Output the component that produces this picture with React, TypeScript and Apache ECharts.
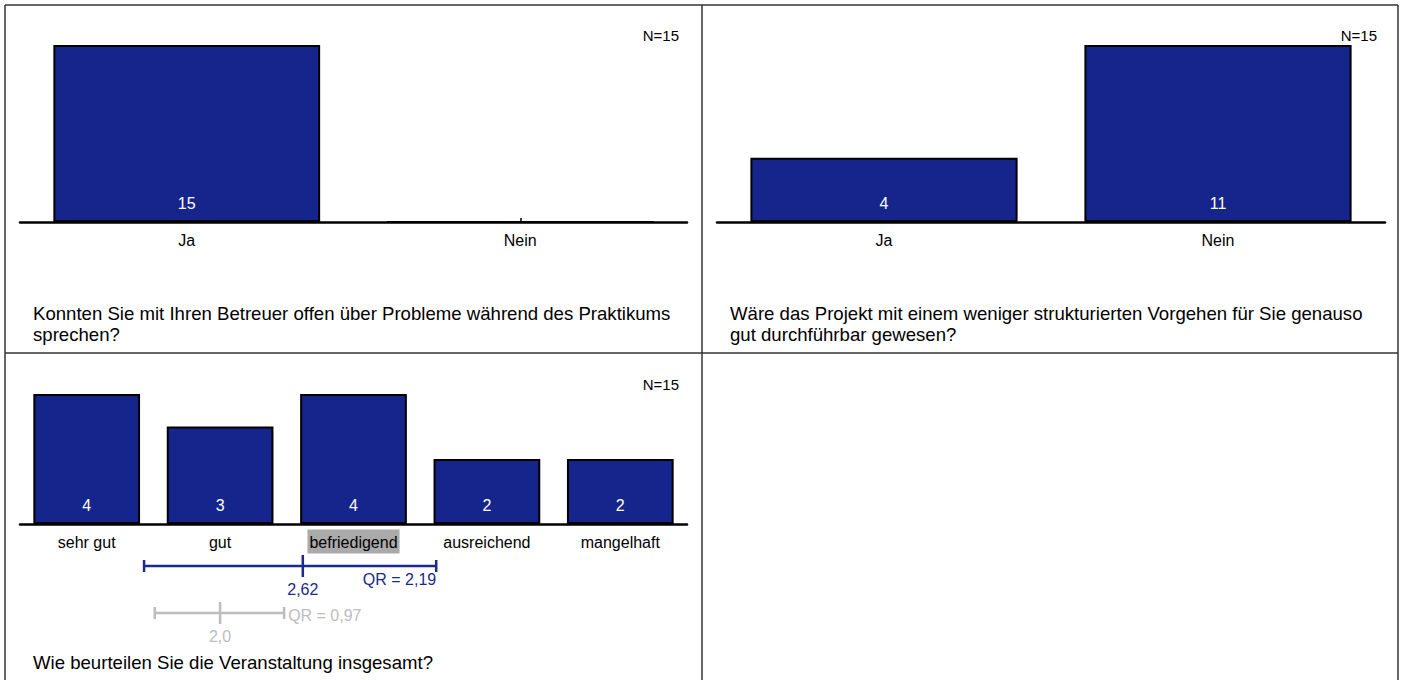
import React, { useEffect, useRef } from "react";
import * as echarts from "echarts";

// ---------- data ----------
const q1Categories = ["Ja", "Nein"];
const q1Values = [15, 0];
const q1N = 15;
const q1Title = "Konnten Sie mit Ihren Betreuer offen über Probleme während des Praktikums\nsprechen?";

const q2Categories = ["Ja", "Nein"];
const q2Values = [4, 11];
const q2N = 15;
const q2Title = "Wäre das Projekt mit einem weniger strukturierten Vorgehen für Sie genauso\ngut durchführbar gewesen?";

const q3Categories = ["sehr gut", "gut", "befriedigend", "ausreichend", "mangelhaft"];
const q3Values = [4, 3, 4, 2, 2];
const q3N = 15;
const q3Title = "Wie beurteilen Sie die Veranstaltung insgesamt?";
const q3Highlight = "befriedigend";

// median / lower / upper (scale 1..5) for the two reference bars
const q3Medians = [2.62, 2.0];
const q3Lower = [1.43, 1.51];
const q3Upper = [3.62, 2.48];
const q3MedianLabels = ["2,62", "2,0"];
const q3QRLabels = ["QR = 2,19", "QR = 0,97"];

// ---------- style ----------
const FONT = "'Liberation Sans', Arial, sans-serif";
const BAR_COLOR = "#15258b";
const BLUE = "#1b2a8e";
const GRAY = "#bdbdbd";
const ebColors = [BLUE, GRAY];
const ebOffsets = [42, 89];
const ebQRAlign = ["right", "left"];
const TITLE_SIZE = 18.6;

function catAxis(gridIndex: number, data: string[]) {
  return {
    type: "category",
    gridIndex,
    data,
    axisLine: { show: true, lineStyle: { color: "#000", width: 2.5 } },
    axisTick: { show: true, inside: true, alignWithLabel: true, length: 4, lineStyle: { color: "#000", width: 1.5 } },
    axisLabel: {
      interval: 0,
      hideOverlap: false,
      margin: 9,
      color: "#000",
      fontFamily: FONT,
      fontSize: 16,
      formatter: (v: string) => (v === q3Highlight && gridIndex === 2 ? `{hl|${v}}` : `{n|${v}}`),
      rich: {
        hl: { backgroundColor: "#aaaaaa", padding: [5, 2, 3, 2], fontSize: 16, fontFamily: FONT, color: "#000", lineHeight: 17 },
        n: { padding: [5, 2, 3, 2], fontSize: 16, fontFamily: FONT, color: "#000", lineHeight: 17 },
      },
    },
    splitLine: { show: false },
  };
}

function valAxis(gridIndex: number, values: number[]) {
  return { type: "value", gridIndex, min: 0, max: Math.max(...values), show: false };
}

function barSeries(idx: number, values: number[]) {
  return {
    type: "bar",
    xAxisIndex: idx,
    yAxisIndex: idx,
    data: values,
    barWidth: "80%",
    itemStyle: { color: BAR_COLOR, borderColor: "#000", borderWidth: 2 },
    label: {
      show: true,
      position: "insideBottom",
      distance: 11,
      color: "#fff",
      fontFamily: FONT,
      fontSize: 16,
      formatter: (p: any) => (p.value === 0 ? "" : String(p.value)),
    },
  };
}

function textEl(text: string, x: number, y: number, opts: any = {}) {
  return {
    type: "text",
    x,
    y,
    silent: true,
    style: { text, fill: "#000", fontSize: opts.fontSize || 15, fontFamily: FONT, align: opts.align || "left", verticalAlign: opts.verticalAlign || "middle", lineHeight: opts.lineHeight },
  };
}

function lineEl(x1: number, y1: number, x2: number, y2: number) {
  return { type: "line", silent: true, shape: { x1, y1, x2, y2 }, style: { stroke: "#333", lineWidth: 1.5 } };
}

export default function App() {
  const ref = useRef<HTMLDivElement>(null);
  useEffect(() => {
    if (!ref.current) return;
    const chart = echarts.init(ref.current, null, { renderer: "svg" });
    const option: any = {
      animation: false,
      backgroundColor: "#fff",
      textStyle: { fontFamily: FONT },
      grid: [
        { left: 20, top: 45, width: 667, height: 177 },
        { left: 717, top: 45, width: 668, height: 177 },
        { left: 20, top: 394, width: 667, height: 130 },
      ],
      xAxis: [
        catAxis(0, q1Categories),
        catAxis(1, q2Categories),
        catAxis(2, q3Categories),
        { type: "value", gridIndex: 2, min: 0.5, max: 5.5, show: false },
      ],
      yAxis: [valAxis(0, q1Values), valAxis(1, q2Values), valAxis(2, q3Values)],
      series: [
        barSeries(0, q1Values),
        barSeries(1, q2Values),
        barSeries(2, q3Values),
        {
          type: "custom",
          xAxisIndex: 3,
          yAxisIndex: 2,
          clip: false,
          data: q3Medians.map((m, i) => [m, q3Lower[i], q3Upper[i]]),
          renderItem: (params: any, api: any) => {
            const i = params.dataIndex;
            const pm = api.coord([api.value(0), 0]);
            const pl = api.coord([api.value(1), 0]);
            const ph = api.coord([api.value(2), 0]);
            const y = pm[1] + ebOffsets[i];
            const c = ebColors[i];
            const ls = { stroke: c, lineWidth: 2.5 };
            const qrRight = ebQRAlign[i] === "right";
            return {
              type: "group",
              children: [
                { type: "line", shape: { x1: pl[0], y1: y, x2: ph[0], y2: y }, style: ls },
                { type: "line", shape: { x1: pl[0], y1: y - 6, x2: pl[0], y2: y + 6 }, style: ls },
                { type: "line", shape: { x1: ph[0], y1: y - 6, x2: ph[0], y2: y + 6 }, style: ls },
                { type: "line", shape: { x1: pm[0], y1: y - 11, x2: pm[0], y2: y + 11 }, style: ls },
                {
                  type: "text",
                  x: pm[0],
                  y: y + 23,
                  style: { text: q3MedianLabels[i], fill: c, fontSize: 16, fontFamily: FONT, align: "center", verticalAlign: "middle" },
                },
                {
                  type: "text",
                  x: qrRight ? ph[0] : ph[0] + 4,
                  y: qrRight ? y + 13 : y + 2,
                  style: { text: q3QRLabels[i], fill: c, fontSize: 16, fontFamily: FONT, align: qrRight ? "right" : "left", verticalAlign: "middle" },
                },
              ],
            };
          },
        },
      ],
      graphic: [
        lineEl(5, 5, 1398, 5),
        lineEl(5, 5, 5, 680),
        lineEl(1398, 5, 1398, 680),
        lineEl(702, 5, 702, 680),
        lineEl(5, 353, 1398, 353),
        textEl(`N=${q1N}`, 679, 35, { align: "right" }),
        textEl(`N=${q2N}`, 1377, 35, { align: "right" }),
        textEl(`N=${q3N}`, 679, 384, { align: "right" }),
        textEl(q1Title, 33, 303, { fontSize: TITLE_SIZE, verticalAlign: "top", lineHeight: 21 }),
        textEl(q2Title, 730, 303, { fontSize: TITLE_SIZE, verticalAlign: "top", lineHeight: 21 }),
        textEl(q3Title, 33, 652, { fontSize: TITLE_SIZE, verticalAlign: "top", lineHeight: 21 }),
      ],
    };
    chart.setOption(option);
    return () => chart.dispose();
  }, []);
  return <div ref={ref} style={{ position: "fixed", left: 0, top: 0, width: 1404, height: 680 }} />;
}
